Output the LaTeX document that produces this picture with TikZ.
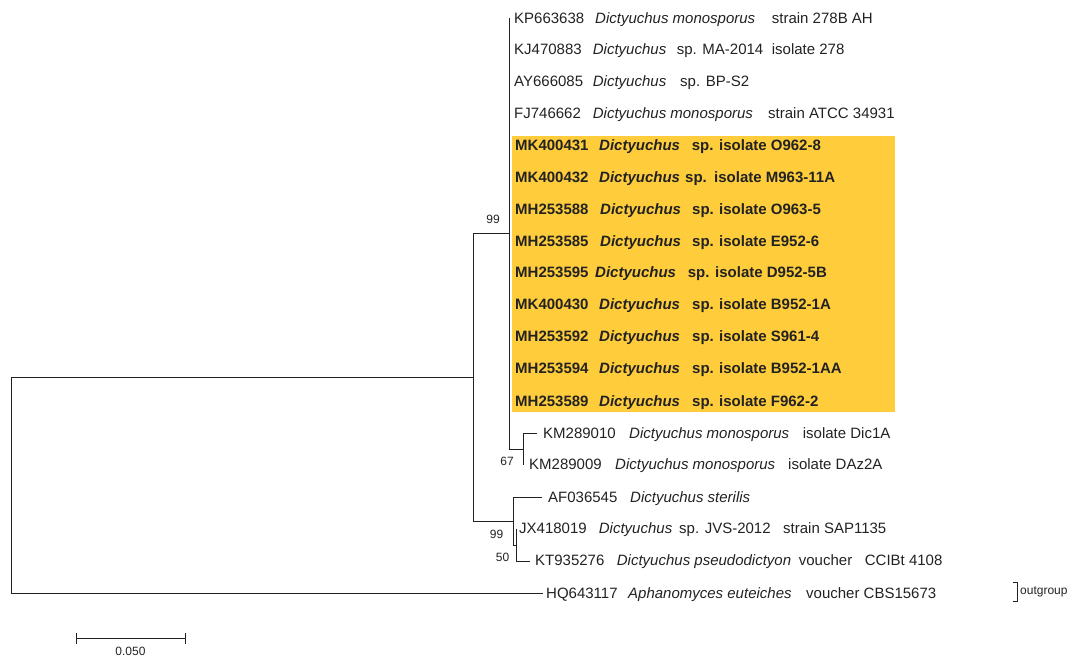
\documentclass[tikz,border=0pt]{standalone}
\usepackage{fontspec}
\setmainfont{Liberation Sans}
\newcommand{\seg}[2]{\makebox[#1pt][l]{#2}}
\definecolor{hl}{RGB}{255,205,60}
\definecolor{ink}{RGB}{34,34,34}
\begin{document}
\begin{tikzpicture}[x=1pt,y=-1pt,
  tip/.style={anchor=west,inner sep=0pt,text height=10.7pt,text depth=0pt,font=\fontsize{15}{18}\selectfont,text=ink},
  tipb/.style={tip,font=\fontsize{15}{18}\selectfont\bfseries},
  boot/.style={inner sep=0pt,font=\fontsize{12}{14}\selectfont,text=ink},
  branch/.style={draw=ink,line width=0.9pt}]
\path[use as bounding box] (0,0) rectangle (1074,659);
% highlight
\fill[hl] (512,136) rectangle (895,412);
% coordinates of internal nodes
\coordinate (R) at (11,485);
\coordinate (A) at (473,377);
\coordinate (B) at (509,233.5);
\coordinate (C) at (523,449);
\coordinate (D) at (513,521);
\coordinate (E) at (516,545);
% branch ends
\coordinate (b1) at (509,18);
\coordinate (b14) at (537,433);
\coordinate (b15) at (523,465);
\coordinate (b16) at (542,497);
\coordinate (b17) at (516,529);
\coordinate (b18) at (530,561);
\coordinate (b19) at (543,593);
% branches
\draw[branch] (R) |- (A);
\draw[branch] (R) |- (b19);
\draw[branch] (A) |- (B);
\draw[branch] (A) |- (D);
\draw[branch] (B) |- (b1);
\draw[branch] (B) |- (C);
\draw[branch] (C) |- (b14);
\draw[branch] (C) |- (b15);
\draw[branch] (D) |- (b16);
\draw[branch] (D) |- (E);
\draw[branch] (E) |- (b17);
\draw[branch] (E) |- (b18);
% tip labels
\node[tip] (t1) at (514,18) {\seg{81}{KP663638}\seg{176.7}{\itshape Dictyuchus monosporus}strain 278B AH};
\node[tip] (t2) at (514,49.5) {\seg{78.7}{KJ470883}\seg{84}{\itshape Dictyuchus}\seg{95}{sp. MA-2014}isolate 278};
\node[tip] (t3) at (514,81) {\seg{78.7}{AY666085}\seg{87.3}{\itshape Dictyuchus}sp. BP-S2};
\node[tip] (t4) at (514,113) {\seg{78.7}{FJ746662}\seg{175.3}{\itshape Dictyuchus monosporus}strain ATCC 34931};
\node[tipb] (t5) at (515,145) {\seg{84}{MK400431}\seg{92.7}{\itshape Dictyuchus}\seg{27.3}{sp.}isolate O962-8};
\node[tipb] (t6) at (515,177) {\seg{84}{MK400432}\seg{86}{\itshape Dictyuchus}\seg{29}{sp.}isolate M963-11A};
\node[tipb] (t7) at (515,209) {\seg{85}{MH253588}\seg{92}{\itshape Dictyuchus}\seg{27}{sp.}isolate O963-5};
\node[tipb] (t8) at (515,241) {\seg{85}{MH253585}\seg{92}{\itshape Dictyuchus}\seg{27}{sp.}isolate E952-6};
\node[tipb] (t9) at (515,272.5) {\seg{80}{MH253595}\seg{92.7}{\itshape Dictyuchus}\seg{27.3}{sp.}isolate D952-5B};
\node[tipb] (t10) at (515,304.5) {\seg{84}{MK400430}\seg{93}{\itshape Dictyuchus}\seg{27}{sp.}isolate B952-1A};
\node[tipb] (t11) at (515,336.5) {\seg{84}{MH253592}\seg{93}{\itshape Dictyuchus}\seg{27}{sp.}isolate S961-4};
\node[tipb] (t12) at (515,368.5) {\seg{84}{MH253594}\seg{93}{\itshape Dictyuchus}\seg{27}{sp.}isolate B952-1AA};
\node[tipb] (t13) at (515,401) {\seg{84}{MH253589}\seg{93}{\itshape Dictyuchus}\seg{27}{sp.}isolate F962-2};
\node[tip] (t14) at (543,433) {\seg{86}{KM289010}\seg{173.7}{\itshape Dictyuchus monosporus}isolate Dic1A};
\node[tip] (t15) at (529,464.5) {\seg{86}{KM289009}\seg{173}{\itshape Dictyuchus monosporus}isolate DAz2A};
\node[tip] (t16) at (548,497) {\seg{82}{AF036545}\itshape Dictyuchus sterilis};
\node[tip] (t17) at (519,528.5) {\seg{79.7}{JX418019}\seg{80.3}{\itshape Dictyuchus}\seg{104}{sp. JVS-2012}strain SAP1135};
\node[tip] (t18) at (535,560) {\seg{81.7}{KT935276}\seg{182}{\itshape Dictyuchus pseudodictyon}\seg{66}{voucher}CCIBt 4108};
\node[tip] (t19) at (546,593) {\seg{82}{HQ643117}\seg{178}{\itshape Aphanomyces euteiches}voucher CBS15673};
% bootstrap values
\node[boot] (s99a) at (493,219) {99};
\node[boot] (s67) at (507,461) {67};
\node[boot] (s99b) at (496.5,534) {99};
\node[boot] (s50) at (502.5,557.5) {50};
% outgroup bracket
\coordinate (og1) at (1013,582);
\coordinate (og2) at (1013,601);
\draw[branch] (og1) -- ++(4,0) |- (og2);
\node[boot,anchor=base west] (og) at (1020,594) {outgroup};
% scale bar
\coordinate (sb1) at (76,638);
\coordinate (sb2) at (185,638);
\draw[branch] (sb1) -- (sb2);
\draw[branch] (76,633) -- (76,644);
\draw[branch] (185,633) -- (185,644);
\node[boot] (sbl) at (130.5,651) {0.050};
\end{tikzpicture}
\end{document}
